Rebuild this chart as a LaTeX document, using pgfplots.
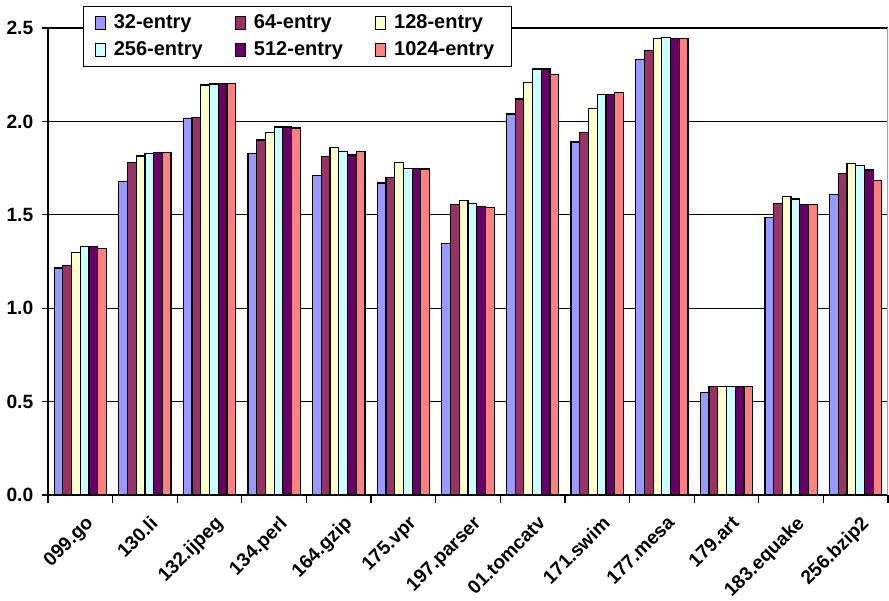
\documentclass[border=0pt]{standalone}
\usepackage{pgfplots}
\pgfplotsset{compat=1.18}
\usepackage{pgfplotstable}
\usepackage{fontspec}
\setmainfont{Liberation Sans}
\definecolor{cA}{HTML}{9999FF}
\definecolor{cB}{HTML}{993366}
\definecolor{cC}{HTML}{FFFFCC}
\definecolor{cD}{HTML}{CCFFFF}
\definecolor{cE}{HTML}{660066}
\definecolor{cF}{HTML}{FF8080}
\pgfplotstableread{
x  a      b      c      d      e      f
0  1.215  1.230  1.300  1.330  1.330  1.320
1  1.680  1.780  1.815  1.830  1.835  1.835
2  2.015  2.020  2.195  2.200  2.205  2.205
3  1.830  1.900  1.940  1.970  1.970  1.965
4  1.710  1.810  1.860  1.840  1.820  1.840
5  1.670  1.700  1.780  1.750  1.750  1.745
6  1.345  1.555  1.575  1.560  1.545  1.540
7  2.040  2.120  2.210  2.280  2.280  2.250
8  1.890  1.940  2.070  2.145  2.145  2.155
9  2.330  2.380  2.445  2.450  2.445  2.445
10 0.550  0.580  0.580  0.580  0.580  0.580
11 1.485  1.560  1.600  1.585  1.555  1.555
12 1.610  1.720  1.775  1.765  1.740  1.685
}\data
\begin{document}
\fontsize{9.6}{11}\selectfont
\begin{tikzpicture}
\begin{axis}[
  at={(0,0)}, anchor=south west,
  scale only axis, width=420pt, height=233.5pt,
  font=\fontsize{9.6}{11}\selectfont\bfseries,
  ybar=0pt, bar width=0.135,
  xmin=-0.5, xmax=12.5, ymin=0, ymax=2.5,
  ytick={0,0.5,...,2.5},
  /pgf/number format/fixed, /pgf/number format/fixed zerofill,
  /pgf/number format/precision=1, /pgf/number format/assume math mode=true,
  yticklabel style={font=\fontsize{9.6}{11}\selectfont\bfseries, xshift=-1pt},
  ymajorgrids, grid style={black, line width=0.6pt},
  xtick={0,...,12},
  xticklabels={099.go,130.li,132.ijpeg,134.perl,164.gzip,175.vpr,197.parser,01.tomcatv,171.swim,177.mesa,179.art,183.equake,256.bzip2},
  xticklabel style={rotate=45, anchor=north east, font=\fontsize{9.6}{11}\selectfont\bfseries, xshift=0pt, yshift=-3pt},
  minor xtick={-0.5,0.5,...,12.5},
  major x tick style={draw=none},
  tick align=outside,
  minor tick length=4pt, major tick length=3pt,
  x tick style={black, line width=0.6pt},
  y tick style={black, line width=0.6pt},
  xtick pos=bottom, ytick pos=left,
  axis line style={line width=0.6pt},
  axis x line*=bottom, axis y line*=left,
  every axis plot/.append style={draw=black, line width=0.6pt},
  legend style={at={(17.5pt,244.5pt)}, anchor=north west, legend columns=3,
    draw=black, line width=0.6pt, inner xsep=5.5pt, inner ysep=2pt,
    font=\fontsize{10}{11.5}\selectfont\bfseries,
    /tikz/every odd column/.style={column sep=2pt},
    /tikz/row sep=1pt},
  legend cell align=left,
  legend image code/.code={\draw[#1, line width=0.6pt] (0pt,-3.2pt) rectangle (5pt,3.2pt);},
]
\addplot[fill=cA] table[x=x,y=a]{\data};
\addplot[fill=cB] table[x=x,y=b]{\data};
\addplot[fill=cC] table[x=x,y=c]{\data};
\addplot[fill=cD] table[x=x,y=d]{\data};
\addplot[fill=cE] table[x=x,y=e]{\data};
\addplot[fill=cF] table[x=x,y=f]{\data};
\legend{\makebox[58.5pt][l]{32-entry},\makebox[58.5pt][l]{64-entry},\makebox[51pt][l]{128-entry},\makebox[58.5pt][l]{256-entry},\makebox[58.5pt][l]{512-entry},\makebox[51pt][l]{1024-entry}}
\draw[gray!70, line width=0.6pt] (axis cs:12.5,0) -- (axis cs:12.5,2.5);
\end{axis}
\pgfresetboundingbox
\path[use as bounding box] (-24pt,-52.5pt) rectangle (420.5pt,247.5pt);
\end{tikzpicture}
\end{document}
